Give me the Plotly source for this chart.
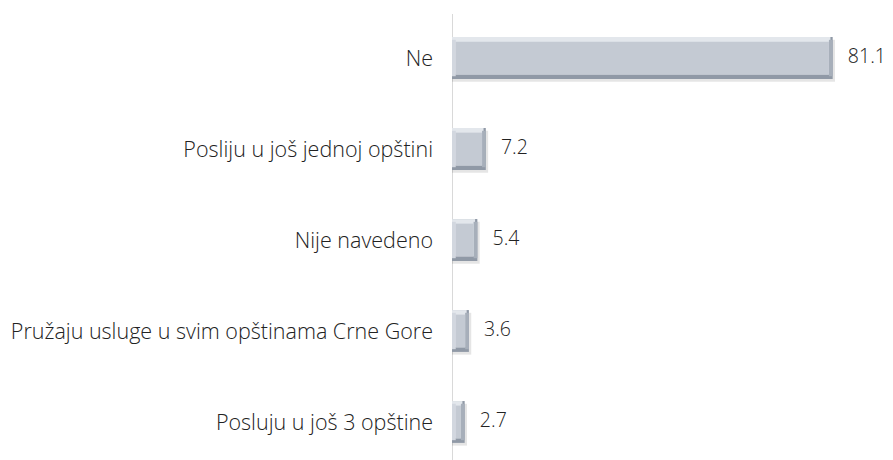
import plotly.graph_objects as go

categories = ["Ne", "Posliju u još jednoj opštini", "Nije navedeno",
              "Pružaju usluge u svim opštinama Crne Gore", "Posluju u još 3 opštine"]
values = [81.1, 7.2, 5.4, 3.6, 2.7]
value_labels = ["81.1", "7.2", "5.4", "3.6", "2.7"]

W = 0.46          # bar thickness (category units)
EX = 0.8          # bevel inset along value axis (value units)
EY = 0.05         # bevel inset along category axis
FONT = "Open Sans"
FS = 21.5
FS_VAL = 19.5

# the page body has an 8px default margin; compensate so the plot lands where the reference has it
PAGE = 8
fig_w, fig_h = 893 - PAGE, 460 - PAGE
ml, mt, mr, mb = 452 - PAGE, 14 - PAGE, 20, 0

fig = go.Figure()
# soft shadow
fig.add_trace(go.Bar(y=categories, x=[v + 0.5 for v in values], orientation="h",
                     width=W, offset=-W / 2 + 0.03,
                     marker=dict(color="rgba(0,0,0,0.10)", line=dict(width=0)),
                     hoverinfo="skip", showlegend=False))
# dark outer (bottom / right edge)
fig.add_trace(go.Bar(y=categories, x=values, orientation="h", width=W, offset=-W / 2,
                     marker=dict(color="#9099a6", line=dict(width=0)),
                     hoverinfo="skip", showlegend=False))
# light top edge
fig.add_trace(go.Bar(y=categories, x=[v - EX * 0.6 for v in values], orientation="h",
                     width=W - EY, offset=-W / 2,
                     marker=dict(color="#e3e7ec", line=dict(width=0)),
                     hoverinfo="skip", showlegend=False))
# left edge
fig.add_trace(go.Bar(y=categories, x=[EX] * len(values), orientation="h",
                     width=W - EY * 1.2, offset=-W / 2 + EY * 0.6,
                     marker=dict(color="#d2d7df", line=dict(width=0)),
                     hoverinfo="skip", showlegend=False))
# right edge
fig.add_trace(go.Bar(y=categories, x=[EX] * len(values), base=[v - EX for v in values],
                     orientation="h",
                     width=W - EY * 1.2, offset=-W / 2 + EY * 0.6,
                     marker=dict(color="#a7afba", line=dict(width=0)),
                     hoverinfo="skip", showlegend=False))
# face
fig.add_trace(go.Bar(y=categories, x=[max(v - 2 * EX, 0.05) for v in values],
                     base=[EX] * len(values), orientation="h",
                     width=W - 2 * EY, offset=-W / 2 + EY,
                     marker=dict(color="#c4cad3", line=dict(width=0)),
                     hoverinfo="skip", showlegend=False))
# value labels
fig.add_trace(go.Scatter(y=categories, x=values, mode="text",
                         text=value_labels, textposition="middle right",
                         texttemplate="   %{text}",
                         textfont=dict(family=FONT, size=FS_VAL, color="#222222", weight=300),
                         hoverinfo="skip", showlegend=False, cliponaxis=False))

plot_w = fig_w - ml - mr
fig.update_layout(
    width=fig_w, height=fig_h,
    margin=dict(l=ml, r=mr, t=mt, b=mb, autoexpand=False),
    paper_bgcolor="white", plot_bgcolor="white",
    barmode="overlay",
    showlegend=False,
    xaxis=dict(range=[0, plot_w / 4.694], visible=False, fixedrange=True,
               automargin=False),
    yaxis=dict(type="category", categoryorder="array", categoryarray=categories,
               range=[4.418, -0.484], automargin=False,
               showgrid=False, zeroline=False, showline=False,
               ticks="", ticklabelstandoff=18,
               tickfont=dict(family=FONT, size=FS, color="#222222", weight=300)),
    shapes=[dict(type="line", xref="x", yref="paper", x0=0, x1=0, y0=0, y1=1,
                 line=dict(color="#d9d9d9", width=2), layer="below")],
)

fig.write_html("out.html")
